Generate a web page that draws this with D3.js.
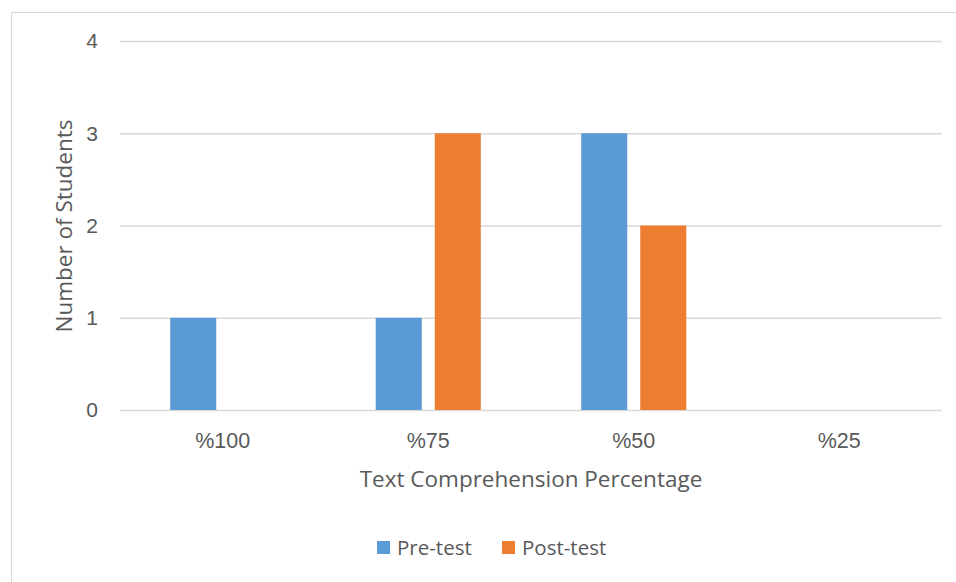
<!DOCTYPE html>
<html><head><meta charset="utf-8">
<script src="https://cdn.jsdelivr.net/npm/d3@7"></script>
<style>body{margin:0;background:#fff;}svg{display:block;}</style>
</head><body>
<svg id="c" width="956" height="582"></svg>
<script>
const categories = ["%100", "%75", "%50", "%25"];
const seriesNames = ["Pre-test", "Post-test"];
const preTest = [1, 1, 3, 0];
const postTest = [0, 3, 2, 0];
const yTicks = [0, 1, 2, 3, 4];
const colors = ["#5b9bd5", "#ed7d31"];

(function () {
const svg = d3.select("#c");
const textColor = "#595959";
svg.append("rect").attr("x", 11.5).attr("y", 12.5).attr("width", 960).attr("height", 600)
  .attr("fill", "none").attr("stroke", "#d9d9d9").attr("stroke-width", 1);

const pLeft = 120, pRight = 942, pTop = 41, pBottom = 410;
const x = d3.scaleBand().domain(categories).range([pLeft, pRight]).paddingInner(0).paddingOuter(0);
const y = d3.scaleLinear().domain([0, 4]).range([pBottom, pTop]);
const xs = d3.scaleBand().domain(seriesNames).range([0, x.bandwidth()]).paddingInner(0.22).paddingOuter(0.85);

const grid = svg.append("g").attr("transform", `translate(${pLeft},0)`)
  .call(d3.axisLeft(y).tickValues(yTicks).tickSize(-(pRight - pLeft)).tickFormat(""));
grid.select(".domain").remove();
grid.selectAll("line").attr("stroke", "#d9d9d9").attr("stroke-width", 1.3);

svg.append("g").selectAll("text").data(yTicks).join("text")
  .attr("x", 98).attr("y", d => y(d)).attr("dy", "0.35em")
  .attr("text-anchor", "end").attr("font-family", "Liberation Sans, Arial, sans-serif")
  .attr("font-size", 21).attr("fill", textColor).text(d => d);

const data = categories.map((c, i) => ({c, vals: [preTest[i], postTest[i]]}));
const gCat = svg.append("g").selectAll("g").data(data).join("g")
  .attr("transform", d => `translate(${x(d.c)},0)`);
gCat.selectAll("rect").data(d => d.vals.map((v, j) => ({v, s: seriesNames[j], j})).filter(e => e.v > 0))
  .join("rect")
  .attr("x", e => xs(e.s)).attr("width", xs.bandwidth())
  .attr("y", e => y(e.v)).attr("height", e => y(0) - y(e.v))
  .attr("fill", e => colors[e.j]);

svg.append("g").selectAll("text").data(categories).join("text")
  .attr("x", d => x(d) + x.bandwidth() / 2).attr("y", 448)
  .attr("text-anchor", "middle").attr("font-family", "Liberation Sans, Arial, sans-serif")
  .attr("font-size", 21.5).attr("fill", textColor).text(d => d);

svg.append("text").attr("x", 531).attr("y", 487).attr("text-anchor", "middle")
  .attr("font-family", "Open Sans, sans-serif").attr("font-size", 22.5).attr("fill", textColor)
  .text("Text Comprehension Percentage");
svg.append("text").attr("transform", "translate(72,226) rotate(-90)").attr("text-anchor", "middle")
  .attr("font-family", "Open Sans, sans-serif").attr("font-size", 22.5).attr("fill", textColor)
  .text("Number of Students");

const legX = [377, 502];
const leg = svg.append("g").selectAll("g").data(seriesNames).join("g")
  .attr("transform", (d, i) => `translate(${legX[i]},541)`);
leg.append("rect").attr("width", 13).attr("height", 13).attr("fill", (d, i) => colors[i]);
leg.append("text").attr("x", 20).attr("y", 7).attr("dy", "0.35em")
  .attr("font-family", "Open Sans, sans-serif").attr("font-size", 20.5).attr("fill", textColor).text(d => d);
})();
</script>
</body></html>
